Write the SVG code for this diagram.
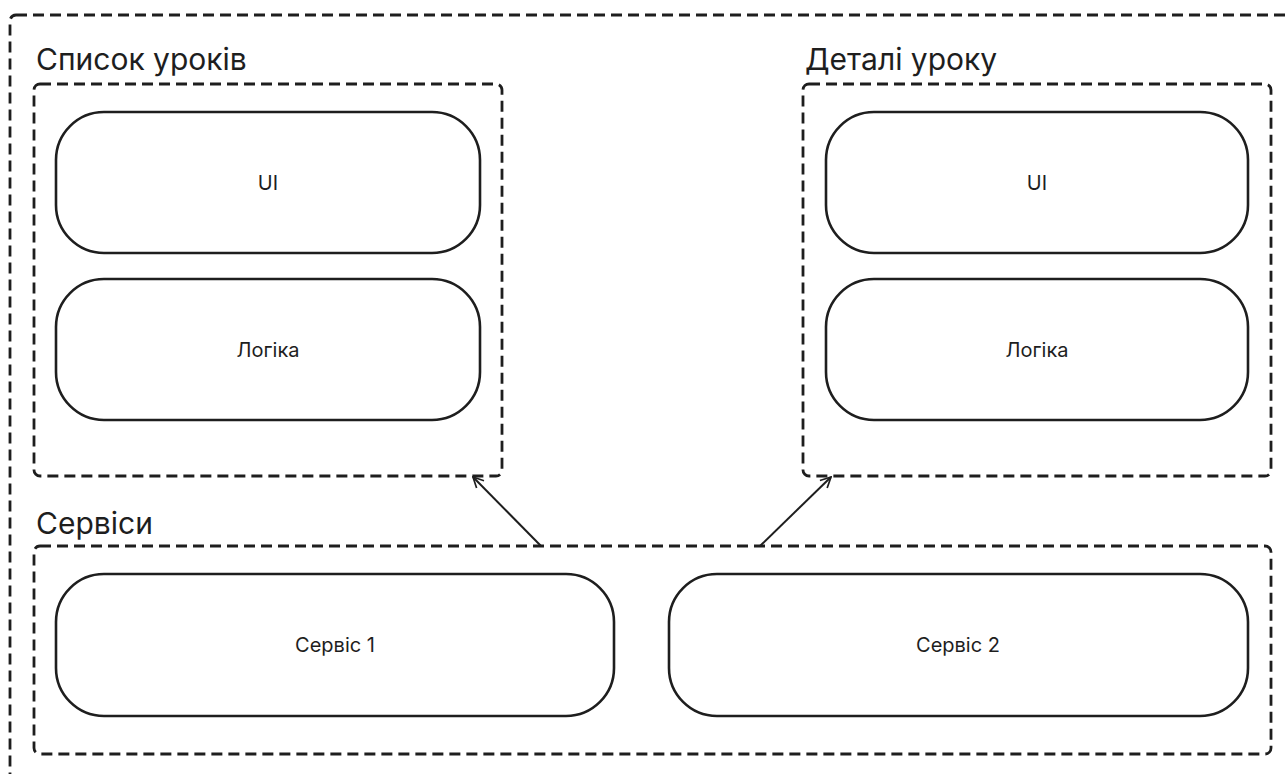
<svg xmlns="http://www.w3.org/2000/svg" width="1286" height="774" viewBox="0 0 1286 774">
<defs>
<style>
.grp{fill:none;stroke:#1e1e1e;stroke-width:2.8;stroke-dasharray:11 6}
.node{fill:#fff;stroke:#1e1e1e;stroke-width:2.6}
.title{font-family:Inter,"Noto Sans",sans-serif;font-size:30px;fill:#1e1e1e}
.lbl{font-family:Inter,"Noto Sans",sans-serif;font-size:20px;fill:#1e1e1e;text-anchor:middle;dominant-baseline:central}
.conn{fill:none;stroke:#1e1e1e;stroke-width:2}
</style>
<marker id="arr" viewBox="0 0 20 20" refX="18" refY="10" markerWidth="13" markerHeight="13" markerUnits="userSpaceOnUse" orient="auto">
<path d="M2,2 L18,10 L2,18" fill="none" stroke="#1e1e1e" stroke-width="2.6"/>
</marker>
</defs>
<rect width="1286" height="774" fill="#fff"/>
<g id="app">
<rect class="grp" x="10" y="15" width="1300" height="800" rx="6"/>
</g>
<g id="lesson-list">
<rect class="grp" x="34" y="84" width="468" height="392" rx="6"/>
<text class="title" x="36" y="70">Список уроків</text>
</g>
<g id="lesson-details">
<rect class="grp" x="803" y="84" width="468" height="392" rx="6"/>
<text class="title" x="805" y="70">Деталі уроку</text>
</g>
<g id="services">
<rect class="grp" x="34" y="546" width="1237" height="208" rx="6"/>
<text class="title" x="36" y="534">Сервіси</text>
</g>
<g id="ui-left"><rect class="node" x="56" y="112" width="424" height="141" rx="48"/><text class="lbl" x="268" y="183">UI</text></g>
<g id="logic-left"><rect class="node" x="56" y="279" width="424" height="141" rx="48"/><text class="lbl" x="268" y="350">Логіка</text></g>
<g id="ui-right"><rect class="node" x="826" y="112" width="422" height="141" rx="48"/><text class="lbl" x="1037" y="183">UI</text></g>
<g id="logic-right"><rect class="node" x="826" y="279" width="422" height="141" rx="48"/><text class="lbl" x="1037" y="350">Логіка</text></g>
<g id="service1"><rect class="node" x="56" y="574" width="558" height="142" rx="48"/><text class="lbl" x="335" y="645">Сервіс 1</text></g>
<g id="service2"><rect class="node" x="669" y="574" width="579" height="142" rx="48"/><text class="lbl" x="958" y="645">Сервіс 2</text></g>
<g id="connectors">
<line class="conn" x1="541" y1="546" x2="473" y2="477" marker-end="url(#arr)"/>
<line class="conn" x1="760" y1="546" x2="831" y2="477" marker-end="url(#arr)"/>
</g>
</svg>
